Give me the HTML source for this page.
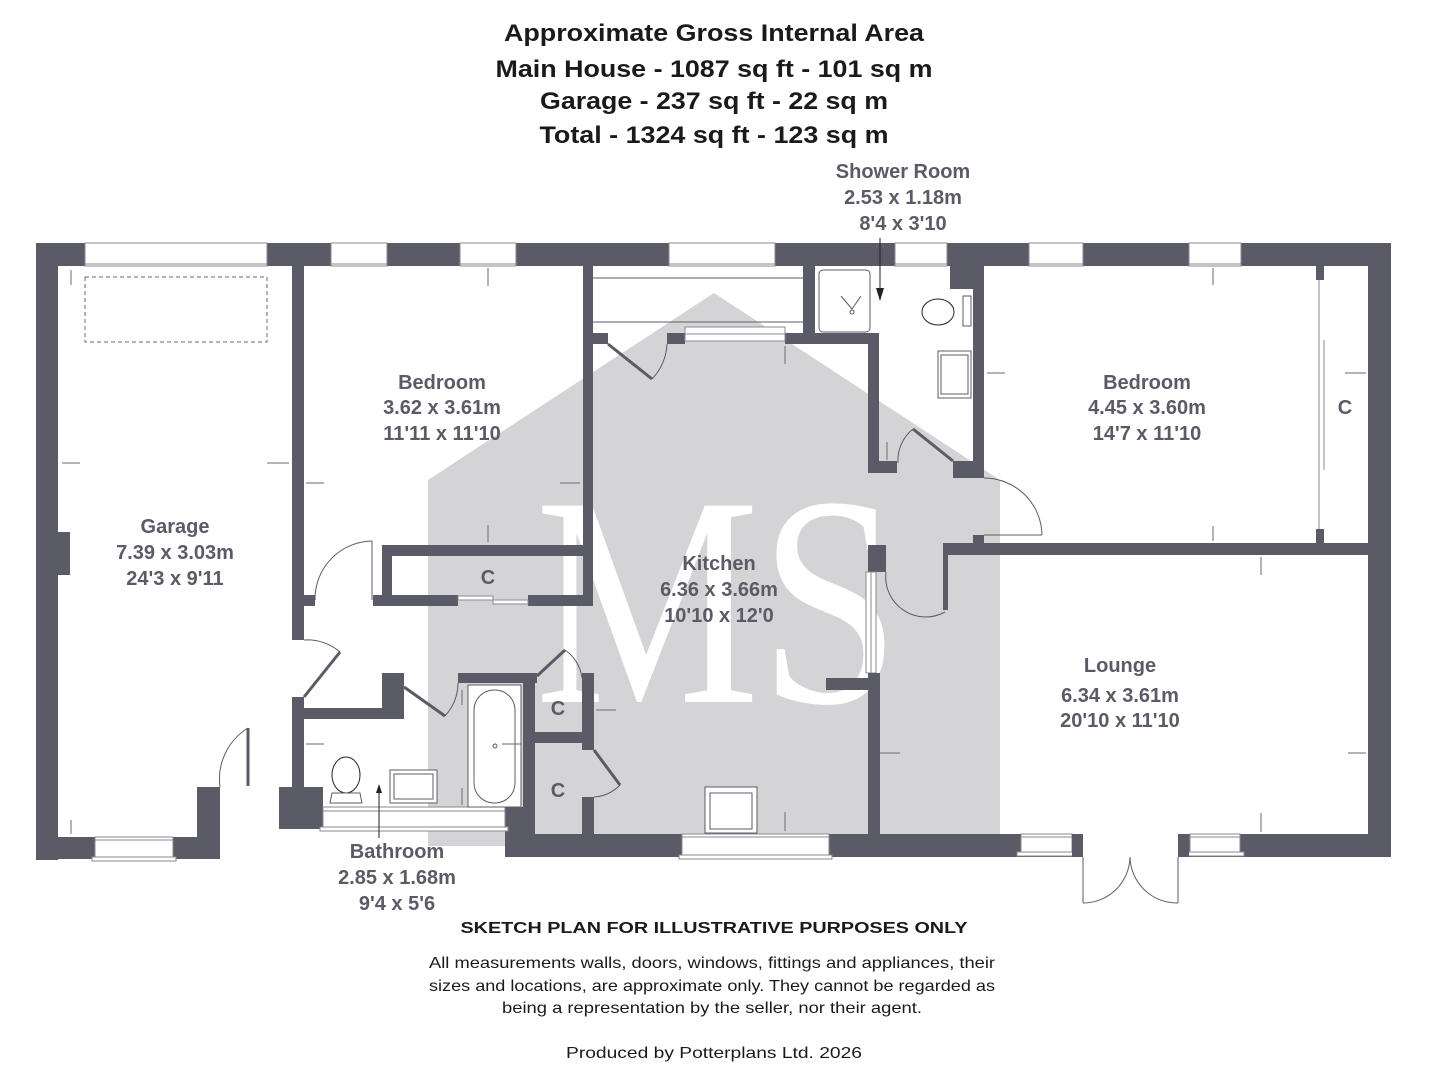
<!DOCTYPE html>
<html><head><meta charset="utf-8"><style>
html,body{margin:0;padding:0;background:#fff;}
svg{display:block}
.t{font-family:"Liberation Sans",sans-serif;font-weight:bold;fill:#1a1a1a;font-size:24px;text-anchor:middle}
.r{font-family:"Liberation Sans",sans-serif;font-weight:bold;fill:#5b5b67;font-size:20px;text-anchor:middle}
.b{font-family:"Liberation Sans",sans-serif;fill:#1a1a1a;font-size:16px;text-anchor:middle}
.w{fill:#5b5b67}
.win{fill:#fff;stroke:#8a8a92;stroke-width:1}
.ln{fill:none;stroke:#5b5b67;stroke-width:1}
.dr{fill:none;stroke:#5b5b67;stroke-width:3}
.ar{stroke:#6a6a72;stroke-width:1;fill:none}
</style></head><body>
<svg width="1430" height="1080" viewBox="0 0 1430 1080" xmlns="http://www.w3.org/2000/svg">
<!-- titles -->
<text class="t" x="714" y="41" textLength="420" lengthAdjust="spacingAndGlyphs">Approximate Gross Internal Area</text>
<text class="t" x="714" y="77" textLength="437" lengthAdjust="spacingAndGlyphs">Main House - 1087 sq ft - 101 sq m</text>
<text class="t" x="714" y="109" textLength="348" lengthAdjust="spacingAndGlyphs">Garage - 237 sq ft - 22 sq m</text>
<text class="t" x="714" y="143" textLength="349" lengthAdjust="spacingAndGlyphs">Total - 1324 sq ft - 123 sq m</text>

<!-- watermark -->
<polygon points="428,480 714,293 1000,480 1000,846 428,846" fill="#d4d4d6"/>
<text x="535" y="702" font-family="Liberation Serif,serif" font-size="300" fill="#fff" textLength="365" lengthAdjust="spacingAndGlyphs">MS</text>

<!-- outer walls -->
<rect class="w" x="36" y="243" width="1355" height="23"/>
<rect class="w" x="36" y="243" width="22" height="617"/>
<rect class="w" x="58" y="532" width="12" height="43"/>
<rect class="w" x="36" y="837" width="184" height="22"/>
<rect class="w" x="197" y="787" width="23" height="72"/>
<rect class="w" x="1368" y="243" width="23" height="614"/>
<rect class="w" x="512" y="834" width="879" height="23"/>
<rect class="w" x="505" y="807" width="30" height="50"/>
<rect class="w" x="279" y="787" width="44" height="42"/>

<!-- windows top -->
<rect class="win" x="85" y="243" width="182" height="23"/><line x1="85" y1="264" x2="267" y2="264" stroke="#8a8a92"/>
<rect class="win" x="331" y="243" width="56" height="23"/><line x1="331" y1="264" x2="387" y2="264" stroke="#8a8a92"/>
<rect class="win" x="460" y="243" width="56" height="23"/><line x1="460" y1="264" x2="516" y2="264" stroke="#8a8a92"/>
<rect class="win" x="669" y="243" width="106" height="23"/><line x1="669" y1="264" x2="775" y2="264" stroke="#8a8a92"/>
<rect class="win" x="895" y="243" width="52" height="23"/><line x1="895" y1="264" x2="947" y2="264" stroke="#8a8a92"/>
<rect class="win" x="1029" y="243" width="54" height="23"/><line x1="1029" y1="264" x2="1083" y2="264" stroke="#8a8a92"/>
<rect class="win" x="1189" y="243" width="52" height="23"/><line x1="1189" y1="264" x2="1241" y2="264" stroke="#8a8a92"/>
<!-- windows bottom -->
<rect class="win" x="95" y="837" width="78" height="22"/><line x1="95" y1="840" x2="173" y2="840" stroke="#8a8a92"/><rect class="win" x="92" y="857" width="84" height="4"/>
<rect class="win" x="323" y="807" width="182" height="22"/><line x1="323" y1="811" x2="505" y2="811" stroke="#8a8a92"/><rect class="win" x="320" y="827" width="188" height="4"/>
<rect class="win" x="682" y="834" width="147" height="23"/><line x1="682" y1="837" x2="829" y2="837" stroke="#8a8a92"/><rect class="win" x="679" y="855" width="153" height="4"/>
<rect class="win" x="1021" y="834" width="51" height="20"/><line x1="1021" y1="837" x2="1072" y2="837" stroke="#8a8a92"/><rect class="win" x="1017" y="852" width="58" height="4"/>
<rect class="win" x="1190" y="834" width="50" height="20"/><line x1="1190" y1="837" x2="1240" y2="837" stroke="#8a8a92"/><rect class="win" x="1186" y="852" width="58" height="4"/>
<!-- french door -->
<rect x="1083" y="834" width="95" height="23" fill="#fff"/>
<rect class="w" x="1072" y="834" width="11" height="23"/><rect class="w" x="1178" y="834" width="11" height="23"/>
<line x1="1083" y1="857" x2="1083" y2="903" class="ln"/><line x1="1178" y1="857" x2="1178" y2="903" class="ln"/>
<path d="M1083,903 A47,47 0 0 0 1130,857" class="ln"/><path d="M1178,903 A47,47 0 0 1 1130,857" class="ln"/>

<!-- garage -->
<rect x="85" y="277" width="182" height="65" fill="none" stroke="#6a6a72" stroke-dasharray="4,3"/>
<rect class="w" x="292" y="243" width="12" height="397"/>
<rect class="w" x="292" y="697" width="12" height="92"/>
<line x1="248" y1="728" x2="248" y2="786" class="dr" stroke-width="2"/>
<path d="M220,787 A60,60 0 0 1 248,728" class="ln"/>
<!-- garage->hall door -->
<line x1="304" y1="697" x2="340" y2="652" class="dr"/>
<path d="M304,640 A50,50 0 0 1 340,652" class="ln"/>

<!-- bedroom1 / hall -->
<rect class="w" x="304" y="595" width="11" height="11"/>
<path d="M315,600 A58,58 0 0 1 372,541" class="ln"/><line x1="372" y1="541" x2="372" y2="600" class="ln"/>
<rect class="w" x="583" y="266" width="10" height="340"/>
<rect class="w" x="382" y="545" width="210" height="11"/>
<rect class="w" x="382" y="545" width="10" height="61"/>
<rect class="w" x="373" y="595" width="85" height="11"/>
<rect class="w" x="528" y="595" width="64" height="11"/>
<rect x="458" y="596" width="35" height="4" fill="#fff" stroke="#8a8a92"/><rect x="493" y="600" width="35" height="4" fill="#fff" stroke="#8a8a92"/>

<!-- bathroom -->
<rect class="w" x="292" y="708" width="112" height="11"/>
<rect class="w" x="382" y="673" width="22" height="46"/>
<line x1="404" y1="687" x2="445" y2="716" class="dr"/>
<path d="M445,716 A50,50 0 0 0 458,683" class="ln"/>
<rect class="w" x="458" y="673" width="79" height="10"/>
<rect class="w" x="523" y="673" width="12" height="184"/>
<rect x="468" y="685" width="53" height="122" fill="#fff" stroke="#5b5b67"/>
<rect x="474" y="690" width="41" height="113" rx="20" fill="#fff" stroke="#5b5b67"/>
<circle cx="495" cy="746" r="2" fill="none" stroke="#5b5b67"/>
<rect x="390" y="770" width="47" height="33" fill="#fff" stroke="#5b5b67"/>
<rect x="394" y="774" width="39" height="25" fill="none" stroke="#5b5b67"/>
<ellipse cx="346" cy="775" rx="14" ry="18" fill="#fff" stroke="#222"/>
<path d="M330,803 L332,793 L360,793 L362,803 Z" fill="#fff" stroke="#5b5b67"/>
<line x1="379" y1="786" x2="379" y2="838" stroke="#222"/><polygon points="376,793 382,793 379,784" fill="#222"/>

<!-- C cupboards between bath & kitchen -->
<line x1="537" y1="676" x2="565" y2="650" class="dr"/>
<path d="M565,650 A40,40 0 0 1 582,678" class="ln"/>
<rect class="w" x="582" y="673" width="12" height="77"/>
<rect class="w" x="535" y="732" width="59" height="11"/>
<line x1="594" y1="750" x2="620" y2="785" class="dr"/>
<path d="M620,785 A40,40 0 0 1 594,797" class="ln"/>
<rect class="w" x="582" y="797" width="12" height="38"/>

<!-- kitchen upper -->
<line x1="593" y1="278" x2="803" y2="278" class="ln"/>
<line x1="593" y1="322" x2="803" y2="322" class="ln"/>
<rect class="w" x="803" y="266" width="12" height="75"/>
<rect class="w" x="593" y="333" width="15" height="11"/>
<rect class="w" x="667" y="333" width="18" height="11"/>
<rect class="w" x="785" y="333" width="94" height="11"/>
<rect x="685" y="327" width="100" height="14" fill="#fff" stroke="#8a8a92"/><line x1="685" y1="334" x2="785" y2="334" stroke="#8a8a92"/>
<line x1="608" y1="344" x2="652" y2="379" class="dr"/>
<path d="M652,379 A55,55 0 0 0 667,344" class="ln"/>
<rect class="w" x="868" y="333" width="11" height="140"/>
<rect class="w" x="868" y="461" width="29" height="12"/>
<!-- shower room -->
<rect x="819" y="270" width="51" height="62" rx="4" fill="#fff" stroke="#5b5b67"/>
<line x1="841" y1="296" x2="852" y2="309" class="ln"/><line x1="861" y1="296" x2="852" y2="309" class="ln"/><circle cx="852" cy="312" r="2" class="ln"/>
<rect class="w" x="950" y="243" width="32" height="46"/>
<rect class="w" x="973" y="266" width="11" height="212"/>
<rect class="w" x="953" y="461" width="31" height="17"/>
<ellipse cx="938" cy="312" rx="16" ry="13" fill="#fff" stroke="#222"/>
<rect x="963" y="296" width="8" height="30" fill="#fff" stroke="#5b5b67"/>
<rect x="938" y="351" width="33" height="47" fill="#fff" stroke="#5b5b67"/>
<rect x="941" y="355" width="27" height="39" fill="none" stroke="#5b5b67"/>
<line x1="953" y1="461" x2="913" y2="429" class="dr"/>
<path d="M913,429 A40,40 0 0 0 898,463" class="ln"/>
<line x1="880" y1="238" x2="880" y2="300" stroke="#222"/><polygon points="876,288 884,288 880,301" fill="#222"/>

<!-- kitchen / lounge -->
<rect class="w" x="868" y="545" width="18" height="27"/>
<rect x="866" y="572" width="10" height="101" fill="#fff" stroke="#8a8a92"/><line x1="871" y1="572" x2="871" y2="673" stroke="#8a8a92"/>
<rect class="w" x="868" y="673" width="12" height="162"/>
<rect class="w" x="826" y="678" width="54" height="12"/>
<path d="M886,572 A40,40 0 0 0 945,612" class="ln"/>
<rect class="w" x="943" y="543" width="433" height="12"/>
<rect class="w" x="943" y="543" width="5" height="67"/>
<rect class="w" x="973" y="535" width="11" height="10"/>
<path d="M984,478 A58,58 0 0 1 1042,535" class="ln"/>
<line x1="984" y1="535" x2="1042" y2="535" class="ln"/>
<rect x="705" y="787" width="52" height="46" fill="#fff" stroke="#5b5b67"/>
<rect x="710" y="793" width="42" height="36" fill="none" stroke="#5b5b67"/>
<!-- bedroom2 closet -->
<rect class="w" x="1316" y="266" width="8" height="14"/>
<rect class="w" x="1316" y="529" width="8" height="14"/>
<line x1="1319" y1="280" x2="1319" y2="529" stroke="#8a8a92"/>
<line x1="1324" y1="340" x2="1324" y2="470" stroke="#8a8a92"/>

<!-- dimension arrows -->
<g class="ar">
<line x1="62" y1="463" x2="80" y2="463"/><line x1="267" y1="463" x2="289" y2="463"/>
<line x1="71" y1="270" x2="71" y2="285"/><line x1="71" y1="820" x2="71" y2="834"/>
<line x1="306" y1="483" x2="324" y2="483"/><line x1="560" y1="483" x2="580" y2="483"/>
<line x1="488" y1="268" x2="488" y2="286"/><line x1="488" y1="525" x2="488" y2="542"/>
<line x1="596" y1="710" x2="616" y2="710"/><line x1="880" y1="753" x2="898" y2="753"/>
<line x1="785" y1="346" x2="785" y2="364"/><line x1="785" y1="812" x2="785" y2="831"/>
<line x1="306" y1="744" x2="324" y2="744"/><line x1="502" y1="744" x2="521" y2="744"/>
<line x1="462" y1="690" x2="462" y2="705"/><line x1="462" y1="788" x2="462" y2="805"/>
<line x1="987" y1="373" x2="1005" y2="373"/><line x1="1345" y1="373" x2="1366" y2="373"/>
<line x1="1213" y1="268" x2="1213" y2="285"/><line x1="1213" y1="526" x2="1213" y2="541"/>
<line x1="1261" y1="557" x2="1261" y2="575"/><line x1="1261" y1="813" x2="1261" y2="832"/>
<line x1="882" y1="753" x2="900" y2="753"/><line x1="1348" y1="753" x2="1366" y2="753"/>
<line x1="887" y1="442" x2="887" y2="460"/>
</g>

<!-- room labels -->
<text class="r" x="903" y="178" font-size="19">Shower Room</text>
<text class="r" x="903" y="204" font-size="19">2.53 x 1.18m</text>
<text class="r" x="903" y="230" font-size="19">8'4 x 3'10</text>
<text class="r" x="442" y="389">Bedroom</text>
<text class="r" x="442" y="414">3.62 x 3.61m</text>
<text class="r" x="442" y="440">11'11 x 11'10</text>
<text class="r" x="1147" y="389">Bedroom</text>
<text class="r" x="1147" y="414">4.45 x 3.60m</text>
<text class="r" x="1147" y="440">14'7 x 11'10</text>
<text class="r" x="1345" y="414">C</text>
<text class="r" x="175" y="533">Garage</text>
<text class="r" x="175" y="559">7.39 x 3.03m</text>
<text class="r" x="175" y="585">24'3 x 9'11</text>
<text class="r" x="488" y="584">C</text>
<text class="r" x="719" y="570">Kitchen</text>
<text class="r" x="719" y="596">6.36 x 3.66m</text>
<text class="r" x="719" y="622">10'10 x 12'0</text>
<text class="r" x="1120" y="672">Lounge</text>
<text class="r" x="1120" y="702">6.34 x 3.61m</text>
<text class="r" x="1120" y="727">20'10 x 11'10</text>
<text class="r" x="558" y="715">C</text>
<text class="r" x="558" y="797">C</text>
<text class="r" x="397" y="858">Bathroom</text>
<text class="r" x="397" y="884">2.85 x 1.68m</text>
<text class="r" x="397" y="910">9'4 x 5'6</text>

<!-- footer -->
<text class="b" x="714" y="933" font-weight="bold" textLength="507" lengthAdjust="spacingAndGlyphs">SKETCH PLAN FOR ILLUSTRATIVE PURPOSES ONLY</text>
<text class="b" x="712" y="968" textLength="566" lengthAdjust="spacingAndGlyphs">All measurements walls, doors, windows, fittings and appliances, their</text>
<text class="b" x="712" y="991" textLength="566" lengthAdjust="spacingAndGlyphs">sizes and locations, are approximate only. They cannot be regarded as</text>
<text class="b" x="712" y="1013" textLength="420" lengthAdjust="spacingAndGlyphs">being a representation by the seller, nor their agent.</text>
<text class="b" x="714" y="1058" textLength="296" lengthAdjust="spacingAndGlyphs">Produced by Potterplans Ltd. 2026</text>
</svg>
</body></html>
